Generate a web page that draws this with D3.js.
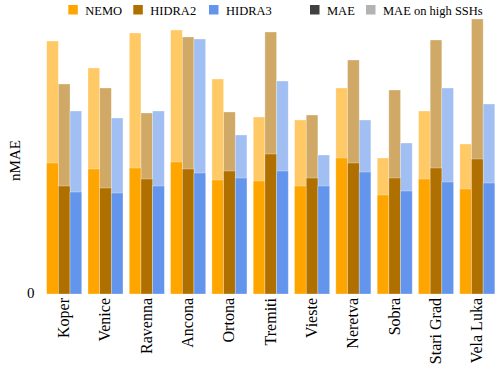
<!DOCTYPE html>
<html>
<head>
<meta charset="utf-8">
<script src="https://cdn.jsdelivr.net/npm/d3@7"></script>
<style>
  body { margin: 0; background: #fff; }
  svg text { font-family: "Liberation Serif", "Times New Roman", Times, "DejaVu Serif", serif; fill: #000; }
</style>
</head>
<body>
<svg id="here"></svg>
<script>
const stations = ["Koper", "Venice", "Ravenna", "Ancona", "Ortona", "Tremiti", "Vieste", "Neretva", "Sobra", "Stari Grad", "Vela Luka"];
const models = ["NEMO", "HIDRA2", "HIDRA3"];

// MAE on high SSHs (light bars)
const highNEMO   = [2.53, 2.26, 2.61, 2.64, 2.15, 1.77, 1.74, 2.06, 1.36, 1.83, 1.50];
const highHIDRA2 = [2.10, 2.06, 1.81, 2.57, 1.82, 2.62, 1.79, 2.34, 2.04, 2.54, 2.75];
const highHIDRA3 = [1.83, 1.76, 1.83, 2.55, 1.59, 2.13, 1.39, 1.74, 1.51, 2.06, 1.90];

// overall MAE (solid bars)
const maeNEMO   = [1.31, 1.25, 1.26, 1.32, 1.14, 1.13, 1.08, 1.36, 0.99, 1.15, 1.05];
const maeHIDRA2 = [1.08, 1.06, 1.15, 1.25, 1.23, 1.40, 1.16, 1.31, 1.16, 1.26, 1.35];
const maeHIDRA3 = [1.02, 1.01, 1.08, 1.21, 1.16, 1.23, 1.08, 1.22, 1.03, 1.12, 1.11];

const yTicks = [0];

const colors = {NEMO: "#ffa500", HIDRA2: "#b07000", HIDRA3: "#6495ed"};
const high = {NEMO: highNEMO, HIDRA2: highHIDRA2, HIDRA3: highHIDRA3};
const mae = {NEMO: maeNEMO, HIDRA2: maeHIDRA2, HIDRA3: maeHIDRA3};

const FONT = '"Liberation Serif", "Times New Roman", Times, "DejaVu Serif", serif';

const width = 500, height = 371;
const margin = {top: 19, right: 2, bottom: 77, left: 43.5};

const svg = d3.select("#here")
  .attr("width", width)
  .attr("height", height)
  .style("font-family", FONT);

const x = d3.scaleBand()
  .domain(stations)
  .range([margin.left, width - margin.right])
  .paddingInner(0.153)
  .paddingOuter(0.077);

const xm = d3.scaleBand()
  .domain(models)
  .range([0, x.bandwidth()]);

const y = d3.scaleLinear()
  .domain([0, 2.75])
  .range([height - margin.bottom, margin.top]);

const rows = [];
stations.forEach((s, i) => {
  models.forEach(m => rows.push({station: s, model: m, high: high[m][i], mae: mae[m][i]}));
});

// light bars: MAE on high SSHs
svg.append("g").selectAll("rect")
  .data(rows)
  .enter().append("rect")
  .attr("x", d => x(d.station) + xm(d.model))
  .attr("y", d => y(d.high))
  .attr("width", xm.bandwidth())
  .attr("height", d => y(0) - y(d.high))
  .attr("fill", d => colors[d.model])
  .attr("fill-opacity", 0.6)
  .attr("stroke", "#fff")
  .attr("stroke-opacity", 0.5)
  .attr("stroke-width", 0.6);

// solid bars: MAE
svg.append("g").selectAll("rect")
  .data(rows)
  .enter().append("rect")
  .attr("x", d => x(d.station) + xm(d.model))
  .attr("y", d => y(d.mae))
  .attr("width", xm.bandwidth())
  .attr("height", d => y(0) - y(d.mae))
  .attr("fill", d => colors[d.model])
  .attr("stroke", "#fff")
  .attr("stroke-opacity", 0.5)
  .attr("stroke-width", 0.6);

// x axis: rotated station names
const xAxis = g => g
  .attr("transform", `translate(0,${y(0)})`)
  .call(d3.axisBottom(x).tickSize(0).tickPadding(0))
  .attr("font-family", FONT)
  .call(g => g.select(".domain").remove())
  .call(g => g.selectAll("text")
    .attr("font-size", 16)
    .attr("text-anchor", "end")
    .attr("dy", null)
    .attr("y", 0)
    .attr("transform", "translate(5,4) rotate(-90)"));

// y axis: only the zero label
const yAxis = g => g
  .attr("transform", `translate(${margin.left},0)`)
  .call(d3.axisLeft(y).tickValues(yTicks).tickFormat(d3.format("d")).tickSize(0).tickPadding(9))
  .attr("font-family", FONT)
  .call(g => g.select(".domain").remove())
  .call(g => g.selectAll("text").attr("font-size", 15).attr("dy", "0.2em"));

svg.append("g").call(xAxis);
svg.append("g").call(yAxis);

svg.append("text")
  .attr("transform", `translate(20,${(y(0) + margin.top) / 2 + 4}) rotate(-90)`)
  .attr("text-anchor", "middle")
  .attr("font-size", 15)
  .text("nMAE");

// legend
const legendItems = [
  {label: "NEMO", color: colors.NEMO, x: 68.3},
  {label: "HIDRA2", color: colors.HIDRA2, x: 133.3},
  {label: "HIDRA3", color: colors.HIDRA3, x: 209},
  {label: "MAE", color: "#404040", x: 310},
  {label: "MAE on high SSHs", color: "#b3b3b3", x: 366}
];
const legend = svg.append("g");
const li = legend.selectAll("g")
  .data(legendItems)
  .enter().append("g")
  .attr("transform", d => `translate(${d.x},5)`);
li.append("rect")
  .attr("width", 9.5)
  .attr("height", 9.5)
  .attr("fill", d => d.color);
li.append("text")
  .attr("x", 17)
  .attr("y", 9.5)
  .attr("font-size", 12.5)
  .text(d => d.label);
</script>
</body>
</html>
